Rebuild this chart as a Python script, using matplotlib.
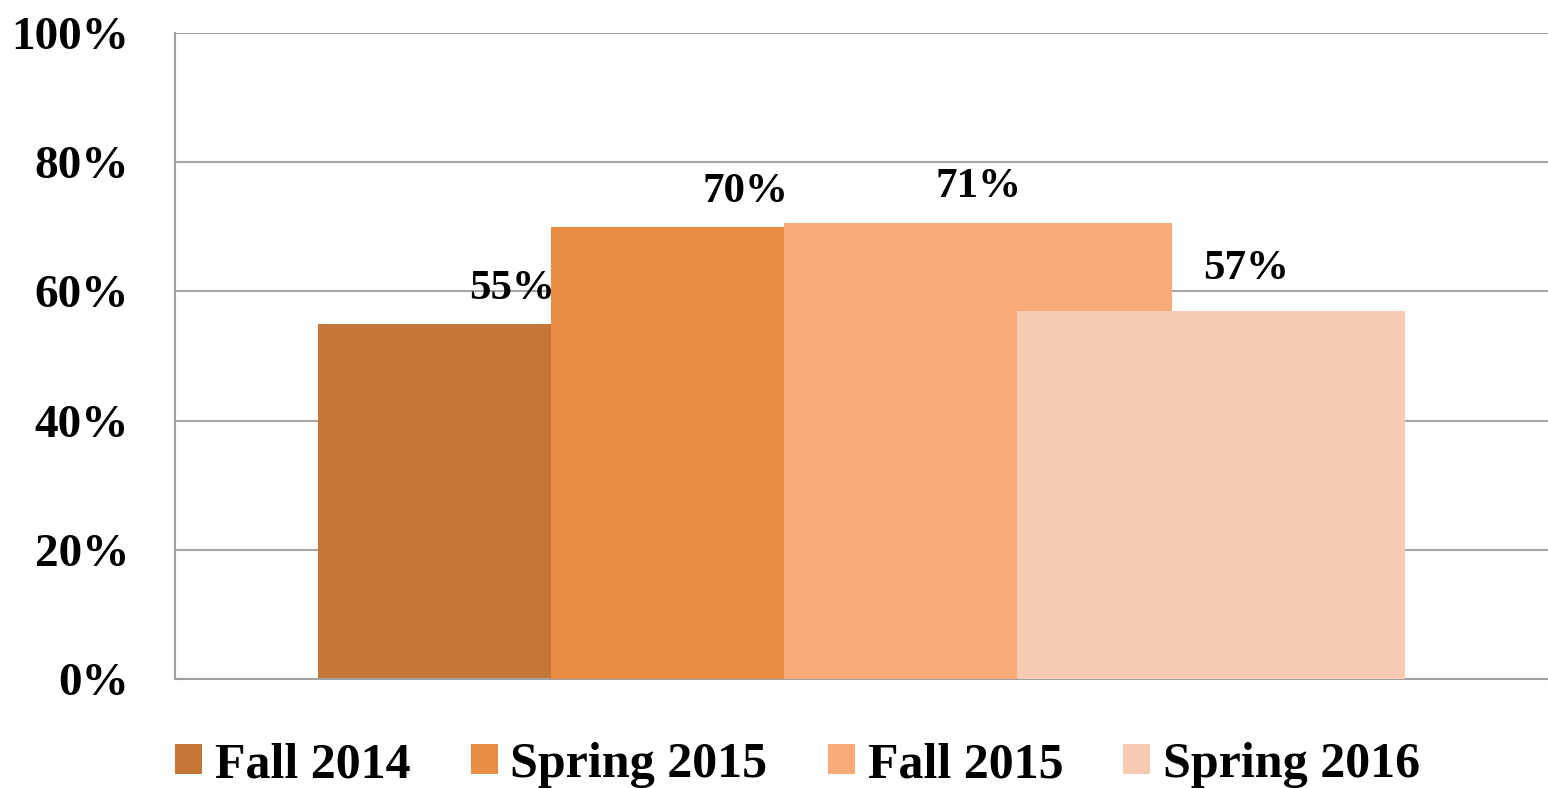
import matplotlib
matplotlib.use("Agg")
import matplotlib.pyplot as plt
from matplotlib.ticker import FuncFormatter

# ---- data ----
series = ["Fall 2014", "Spring 2015", "Fall 2015", "Spring 2016"]
values = [55, 70, 70.6, 57]
colors = ["#C47636", "#E88D43", "#F7AB79", "#F8CBB3"]
yticks = [0, 20, 40, 60, 80, 100]

# ---- style ----
W, H, DPI = 1548, 788, 100
plt.rcParams["font.family"] = ["Liberation Serif", "DejaVu Serif"]
plt.rcParams["font.weight"] = "bold"

fig = plt.figure(figsize=(W / DPI, H / DPI), dpi=DPI)
ax = fig.add_axes([175 / W, 1 - 679 / H, 1 - 175 / W, (679 - 33) / H])

step_px = 233.0
width = 388.0 / step_px
offsets = [i - (len(series) - 1) / 2 for i in range(len(series))]
label_dx = [0, 0, 0, 25]  # points
label_dy = [25, 25, 26, 30]

bars = []
for i, (name, v, c) in enumerate(zip(series, values, colors)):
    b = ax.bar(offsets[i], v, width=width, color=c, label=name, zorder=2 + i)
    bars.append(b)

for i, v in enumerate(values):
    ax.annotate(f"{v:.0f}%", xy=(offsets[i], v), xytext=(label_dx[i], label_dy[i]),
                textcoords="offset points", ha="center", va="center",
                fontsize=31, fontweight="bold", zorder=10)

half = (W - 175) / 2 / step_px
ax.set_xlim(-half, half)
ax.set_ylim(0, 100)
ax.set_yticks(yticks)
ax.yaxis.set_major_formatter(FuncFormatter(lambda v, p: f"{v:.0f}%"))
ax.set_xticks([])
ax.tick_params(axis="y", length=0, pad=33, labelsize=34)
for lab in ax.get_yticklabels():
    lab.set_fontweight("bold")
ax.grid(axis="y", color="#A6A6A6", linewidth=1.5, zorder=0)
ax.set_axisbelow(True)
for s in ["top", "right"]:
    ax.spines[s].set_visible(False)
for s in ["left", "bottom"]:
    ax.spines[s].set_color("#A0A0A0")
    ax.spines[s].set_linewidth(1.5)

leg = fig.legend(handles=[b[0] for b in bars], labels=series, loc="center left",
                 bbox_to_anchor=(175 / W, 1 - 765 / H), ncol=4, frameon=False,
                 fontsize=36, handlelength=0.54, handleheight=0.54,
                 handletextpad=0.26, columnspacing=1.2, borderpad=0,
                 borderaxespad=0)
for t in leg.get_texts():
    t.set_fontweight("bold")

fig.savefig("out.png", dpi=DPI)
